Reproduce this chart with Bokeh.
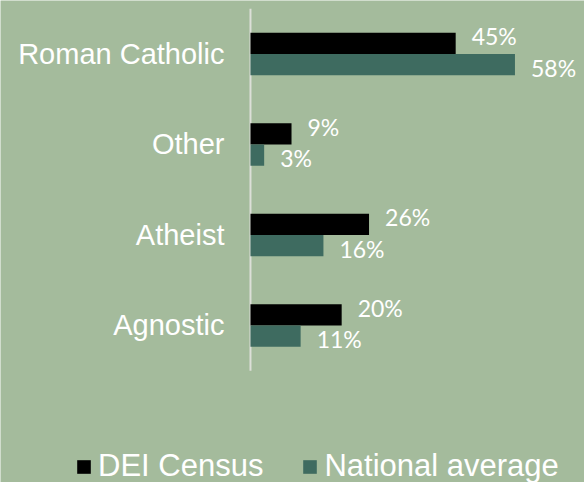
from bokeh.plotting import figure
from bokeh.models import ColumnDataSource, Range1d, Legend, LegendItem
from bokeh.core.properties import value
from bokeh.embed import file_html
from bokeh.resources import INLINE

categories = ["Roman Catholic", "Other", "Atheist", "Agnostic"]
dei_census = [45, 9, 26, 20]
national_average = [58, 3, 16, 11]
series_names = ["DEI Census", "National average"]

BG = "#a4bb9c"
BLACK = "#000000"
TEAL = "#3e6b60"
AXIS = "#dcdfd8"

n = len(categories)
ypos = [n - 1 - i for i in range(n)]   # first category on top

bh = 0.235
off = 0.118

src = ColumnDataSource(dict(
    cat=categories,
    y=ypos,
    y_dei=[y + off for y in ypos],
    y_nat=[y - off for y in ypos],
    zero=[0] * n,
    dei=dei_census,
    nat=national_average,
    dei_lbl=[f"{v}%" for v in dei_census],
    nat_lbl=[f"{v}%" for v in national_average],
))

p = figure(width=584, height=482, output_backend="svg", toolbar_location=None,
           x_range=Range1d(-54.82, 73.25), y_range=Range1d(-1.735, 3.591),
           min_border=0)
p.background_fill_color = BG
p.border_fill_color = BG
p.outline_line_color = None
p.grid.visible = False
p.axis.visible = False

# category axis line and labels
p.segment(x0=[0], y0=[-0.5], x1=[0], y1=[n - 0.5], line_color=AXIS, line_width=2)
p.text(x="zero", y="y", text="cat", source=src, x_offset=-26,
       text_align="right", text_baseline="middle", text_color="white",
       text_font=value("Liberation Sans"), text_font_size="29px")

r1 = p.hbar(y="y_dei", right="dei", left=0, height=bh, source=src,
            fill_color=BLACK, line_color=None)
r2 = p.hbar(y="y_nat", right="nat", left=0, height=bh, source=src,
            fill_color=TEAL, line_color=None)

p.text(x="dei", y="y_dei", text="dei_lbl", source=src,
       x_offset=16, y_offset=-7, text_baseline="middle", text_align="left",
       text_color="white", text_font=value("Lato"), text_font_size="23px")
p.text(x="nat", y="y_nat", text="nat_lbl", source=src,
       x_offset=16, y_offset=3, text_baseline="middle", text_align="left",
       text_color="white", text_font=value("Lato"), text_font_size="23px")

legend = Legend(items=[LegendItem(label=series_names[0], renderers=[r1]),
                       LegendItem(label=series_names[1], renderers=[r2])],
                location=(75, -2), orientation="horizontal",
                glyph_width=17, glyph_height=17, label_standoff=6, spacing=38,
                padding=0, margin=0, border_line_color=None,
                background_fill_alpha=0,
                label_text_color="white", label_text_font="Liberation Sans",
                label_text_font_size="31px")
p.add_layout(legend, "center")

open("out.html", "w").write(file_html(p, INLINE))
